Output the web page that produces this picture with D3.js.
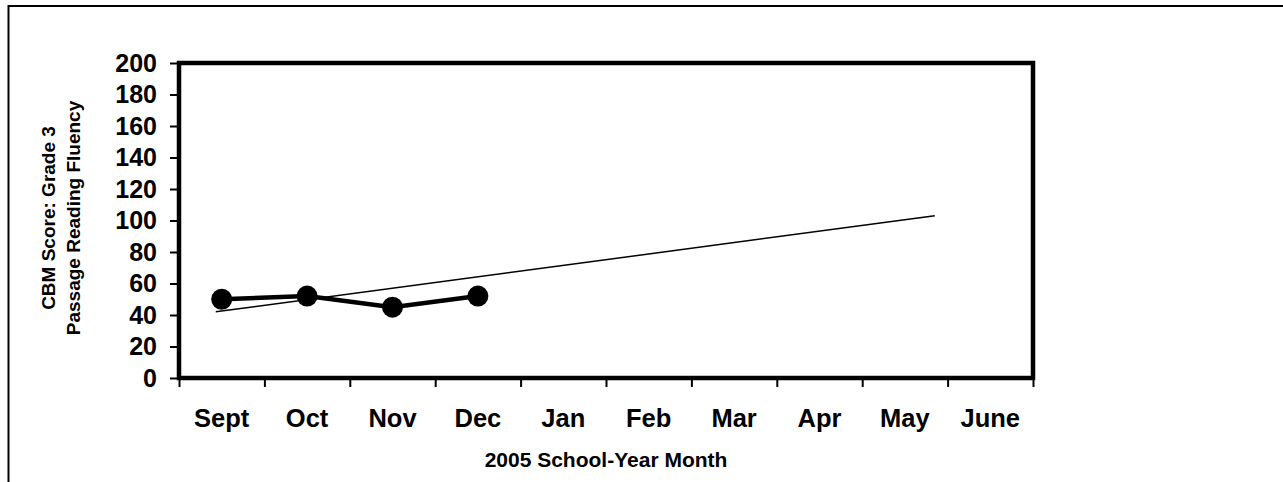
<!DOCTYPE html>
<html>
<head>
<meta charset="utf-8">
<script src="https://cdn.jsdelivr.net/npm/d3@7"></script>
<style>
  body { margin: 0; background: #fff; }
  text { font-family: "Liberation Sans", Arial, sans-serif; font-weight: bold; fill: #000; }
</style>
</head>
<body>
<svg id="chart" width="1283" height="482"></svg>
<script>
// months on the x axis
var months = ["Sept", "Oct", "Nov", "Dec", "Jan", "Feb", "Mar", "Apr", "May", "June"];
// observed CBM scores (first four months)
var scores = [50, 52, 45, 52];
// aimline: start / end, x in month units
var aimX = [0.43, 8.85];
var aimY = [42, 103];
var yTicks = [0, 20, 40, 60, 80, 100, 120, 140, 160, 180, 200];

var svg = d3.select("svg#chart");

// outer frame (runs off the right and bottom)
svg.append("rect")
  .attr("x", 8.5).attr("y", 6)
  .attr("width", 1400).attr("height", 600)
  .attr("fill", "none").attr("stroke", "#000").attr("stroke-width", 2);

var plotL = 179, plotR = 1033, plotT = 63, plotB = 378;

var x = d3.scaleLinear().domain([0, months.length]).range([plotL, plotR]);
var y = d3.scaleLinear().domain([0, 200]).range([plotB, plotT]);

// y axis
var yAxis = svg.append("g")
  .attr("transform", "translate(" + plotL + ",0)")
  .call(d3.axisLeft(y).tickValues(yTicks).tickSize(9).tickPadding(13));
yAxis.select(".domain").remove();
yAxis.selectAll(".tick line").attr("stroke", "#000").attr("stroke-width", 2);
yAxis.selectAll(".tick text")
  .style("font-size", "25px").style("font-family", "Liberation Sans, Arial, sans-serif")
  .style("font-weight", "bold").attr("fill", "#000");

// x axis ticks at band edges
var xAxis = svg.append("g")
  .attr("transform", "translate(0," + plotB + ")")
  .call(d3.axisBottom(x).tickValues(d3.range(months.length + 1)).tickSize(9).tickFormat(""));
xAxis.select(".domain").remove();
xAxis.selectAll(".tick line").attr("stroke", "#000").attr("stroke-width", 2);

svg.append("g").selectAll("text")
  .data(months)
  .enter().append("text")
  .attr("x", function(d, i) { return x(i + 0.5); })
  .attr("y", 427)
  .attr("text-anchor", "middle")
  .style("font-size", "25.5px")
  .text(function(d) { return d; });

// plot frame
svg.append("rect")
  .attr("x", plotL).attr("y", plotT)
  .attr("width", plotR - plotL).attr("height", plotB - plotT)
  .attr("fill", "none").attr("stroke", "#000").attr("stroke-width", 4.5);

// aimline
svg.append("line")
  .attr("x1", x(aimX[0])).attr("y1", y(aimY[0]))
  .attr("x2", x(aimX[1])).attr("y2", y(aimY[1]))
  .attr("stroke", "#000").attr("stroke-width", 1.5);

// scores
var line = d3.line()
  .x(function(d, i) { return x(i + 0.5); })
  .y(function(d) { return y(d); });

svg.append("path")
  .datum(scores)
  .attr("d", line)
  .attr("fill", "none").attr("stroke", "#000").attr("stroke-width", 4.5);

svg.append("g").selectAll("circle")
  .data(scores)
  .enter().append("circle")
  .attr("cx", function(d, i) { return x(i + 0.5); })
  .attr("cy", function(d) { return y(d); })
  .attr("r", 10.5)
  .attr("fill", "#000");

// axis titles
svg.append("text")
  .attr("x", (plotL + plotR) / 2).attr("y", 467)
  .attr("text-anchor", "middle")
  .style("font-size", "21px")
  .text("2005 School-Year Month");

var yt = svg.append("text")
  .attr("transform", "translate(0,218) rotate(-90)")
  .attr("text-anchor", "middle")
  .style("font-size", "19px");
yt.append("tspan").attr("x", 0).attr("y", 55).text("CBM Score: Grade 3");
yt.append("tspan").attr("x", 0).attr("y", 80).text("Passage Reading Fluency");
</script>
</body>
</html>
